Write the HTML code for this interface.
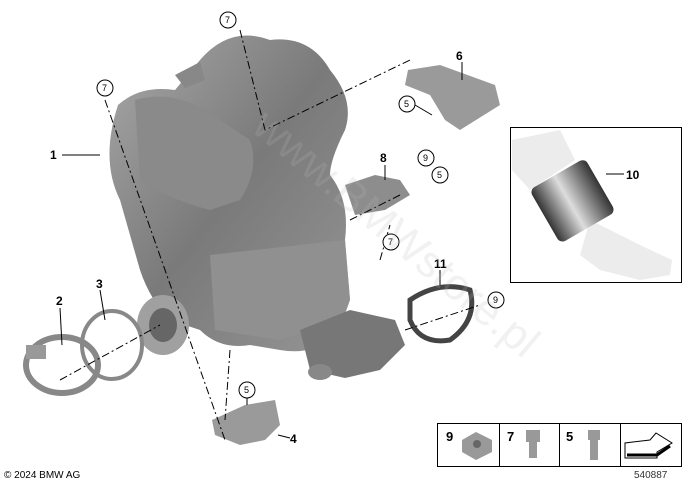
<!DOCTYPE html>
<html><head><style>
body{margin:0;background:#fff;}
svg{display:block;font-family:"Liberation Sans",sans-serif;}
</style></head><body>
<svg width="686" height="484" viewBox="0 0 686 484" xmlns="http://www.w3.org/2000/svg">
<defs>
<linearGradient id="g" x1="0" y1="0" x2="1" y2="1">
<stop offset="0" stop-color="#a8a8a8"/><stop offset="0.5" stop-color="#7a7a7a"/><stop offset="1" stop-color="#959595"/></linearGradient>
<linearGradient id="c" x1="0" y1="0" x2="1" y2="0">
<stop offset="0" stop-color="#333"/><stop offset="0.45" stop-color="#ddd"/><stop offset="1" stop-color="#333"/></linearGradient>
</defs>
<!-- inset -->
<rect x="510.5" y="127.5" width="171" height="155" fill="#fff" stroke="#000"/>
<path d="M512 140 L560 130 L575 160 L530 190 L512 170Z" fill="#ececec"/>
<path d="M590 220 L640 245 L672 260 L670 275 L640 280 L600 270 L580 255Z" fill="#ececec"/>
<g transform="rotate(-30 572 200)"><rect x="540" y="170" width="64" height="62" rx="6" fill="url(#c)"/></g>
<path d="M606 174 L624 174" stroke="#000"/>
<!-- main catalyst body -->
<path d="M118 105 Q140 85 175 90 L200 60 Q230 25 270 40 Q310 35 330 70 Q355 100 345 130 Q330 160 330 175 Q350 200 345 240 L350 300 Q340 330 330 340 Q310 355 280 350 L250 345 Q220 350 200 330 L170 320 Q150 300 140 270 L120 200 Q100 160 118 105Z" fill="url(#g)"/>
<path d="M135 100 Q170 90 205 110 L250 140 Q260 170 240 200 L210 210 Q170 200 140 180Z" fill="#8a8a8a"/>
<path d="M210 255 L345 240 L350 300 Q320 330 280 340 L215 330Z" fill="#909090"/>
<path d="M300 330 L350 310 L395 320 L405 345 L380 370 L345 378 L310 370Z" fill="#777"/>
<ellipse cx="163" cy="325" rx="26" ry="30" fill="#a0a0a0"/><ellipse cx="163" cy="325" rx="14" ry="17" fill="#666"/>
<path d="M175 75 L200 62 L205 80 L185 88Z" fill="#888"/>
<ellipse cx="320" cy="372" rx="12" ry="8" fill="#888"/>
<!-- clamp & ring -->
<ellipse cx="62" cy="365" rx="36" ry="28" fill="none" stroke="#888" stroke-width="6"/>
<ellipse cx="112" cy="345" rx="30" ry="34" fill="none" stroke="#888" stroke-width="4"/>
<rect x="26" y="345" width="20" height="14" fill="#999"/>
<!-- brackets -->
<path d="M408 70 L440 65 L495 85 L500 105 L460 130 L445 120 L430 95 L405 85Z" fill="#9a9a9a"/>
<path d="M345 185 L375 175 L400 180 L410 195 L385 210 L355 215 L350 200Z" fill="#8d8d8d"/>
<path d="M212 420 L245 405 L275 400 L280 425 L265 440 L240 445 L215 435Z" fill="#9a9a9a"/>
<path d="M410 300 Q440 280 470 290 Q478 320 450 340 Q420 345 410 320Z" fill="none" stroke="#444" stroke-width="5"/>
<!-- dash-dot lines -->
<g stroke="#000" stroke-width="1" fill="none" stroke-dasharray="8,3,2,3">
<path d="M105 100 L225 440"/><path d="M240 30 L265 130 L410 60"/><path d="M60 380 L160 325"/><path d="M350 220 L400 195"/><path d="M380 260 L390 225"/><path d="M405 330 L480 305"/><path d="M230 350 L225 420"/>
</g>
<!-- leaders -->
<g stroke="#000" stroke-width="1" fill="none">
<path d="M62 155 L100 155"/><path d="M60 308 L62 345"/><path d="M100 290 L105 320"/><path d="M462 62 L462 80"/><path d="M415 105 L432 115"/><path d="M385 165 L385 180"/><path d="M440 270 L440 285"/><path d="M278 435 L290 438"/><path d="M247 398 L247 405"/>
</g>
<!-- labels -->
<g font-size="12" font-weight="bold" fill="#000">
<text x="50" y="159">1</text><text x="56" y="305">2</text><text x="96" y="288">3</text>
<text x="456" y="60">6</text><text x="380" y="162">8</text><text x="434" y="268">11</text>
<text x="290" y="443">4</text><text x="626" y="179">10</text>
</g>
<g font-size="9" fill="#000" stroke-width="1">
<circle cx="105" cy="88" r="8" fill="#fff" stroke="#000"/><text x="102" y="91">7</text>
<circle cx="228" cy="20" r="8" fill="#fff" stroke="#000"/><text x="225" y="23">7</text>
<circle cx="407" cy="104" r="8" fill="#fff" stroke="#000"/><text x="404" y="107">5</text>
<circle cx="426" cy="158" r="8" fill="#fff" stroke="#000"/><text x="423" y="161">9</text>
<circle cx="440" cy="175" r="8" fill="#fff" stroke="#000"/><text x="437" y="178">5</text>
<circle cx="391" cy="242" r="8" fill="#fff" stroke="#000"/><text x="388" y="245">7</text>
<circle cx="496" cy="300" r="8" fill="#fff" stroke="#000"/><text x="493" y="303">9</text>
<circle cx="247" cy="390" r="8" fill="#fff" stroke="#000"/><text x="244" y="393">5</text>
</g>
<!-- legend -->
<rect x="437.5" y="423.5" width="244" height="43" fill="#fff" stroke="#000"/>
<path d="M499.5 424 V466 M559.5 424 V466 M620.5 424 V466" stroke="#000"/>
<g font-size="13" font-weight="bold"><text x="446" y="441">9</text><text x="507" y="441">7</text><text x="566" y="441">5</text></g>
<path d="M462 440 L476 432 L492 440 L492 452 L476 460 L462 452Z" fill="#999"/><circle cx="477" cy="444" r="4" fill="#666"/>
<rect x="526" y="430" width="14" height="12" fill="#999"/><rect x="529" y="442" width="8" height="16" fill="#999"/>
<rect x="588" y="430" width="12" height="10" fill="#999"/><rect x="590" y="440" width="8" height="20" fill="#999"/>
<path d="M625 443 L625 458 L657 458 L657 452 L672 443 L656 433 L650 440Z" fill="#fff" stroke="#000"/>
<path d="M627 455 H657 L670 446" stroke="#000" stroke-width="3" fill="none"/>
<text x="634" y="478" font-size="10" fill="#333">540887</text>
<text x="4" y="478" font-size="10" fill="#000">© 2024 BMW AG</text>
<text x="250" y="130" font-size="44" fill="#bbb" fill-opacity="0.2" transform="rotate(40 250 130)">www.BMWstore.pl</text>
</svg>
</body></html>
